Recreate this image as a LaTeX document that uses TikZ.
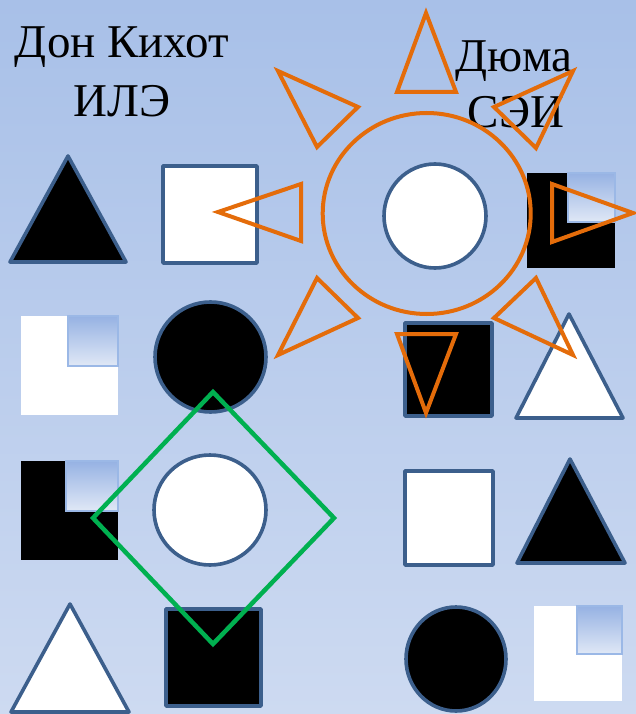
\documentclass[tikz,border=0pt]{standalone}
\usepackage{fontspec}
\setmainfont{Liberation Serif}
\definecolor{bgtop}{RGB}{168,192,232}
\definecolor{bgbot}{RGB}{205,218,241}
\definecolor{sblue}{RGB}{60,95,140}
\definecolor{sorange}{RGB}{228,108,10}
\definecolor{sgreen}{RGB}{0,176,80}
\definecolor{gtop}{RGB}{150,178,227}
\definecolor{gbot}{RGB}{224,232,246}
\definecolor{gedge}{RGB}{155,184,230}
\tikzset{
  bl/.style={draw=sblue,line width=3.6pt,line join=round},
  ray/.style={draw=sorange,line width=4pt,line join=miter},
  gq/.style={top color=gtop,bottom color=gbot,draw=gedge,line width=1.5pt},
  lbl/.style={inner sep=0pt,anchor=base,font=\fontsize{47}{56}\selectfont}
}
\begin{document}
\begin{tikzpicture}[x=1pt,y=-1pt]
\useasboundingbox (0,0) rectangle (636,714);
\shade[top color=bgtop,bottom color=bgbot] (0,0) rectangle (636,714);
% left column shapes
\filldraw[bl,fill=black] (68,156) -- (126,262) -- (10,262) -- cycle;
\filldraw[bl,fill=white] (163,166) rectangle (257,263);
\fill[white] (21,316) rectangle (118,415);
\shadedraw[gq] (68,316) rectangle (118,366);
\filldraw[bl,fill=black] (210.5,357) circle[x radius=55.5,y radius=55];
\fill[black] (21,461) rectangle (118,560);
\shadedraw[gq] (66,461) rectangle (118,511);
\filldraw[bl,fill=white] (210,510) circle[x radius=56,y radius=55];
\filldraw[bl,fill=white] (70,604) -- (129,712) -- (11,712) -- cycle;
\filldraw[bl,fill=black] (166,609) rectangle (261,706);
% right side shapes
\filldraw[bl,fill=white] (435,216) circle[x radius=51,y radius=52];
\fill[black] (527,173) rectangle (615,268);
\shadedraw[gq] (568,173) rectangle (615,222);
\filldraw[bl,fill=black] (405,323) rectangle (492,416);
\filldraw[bl,fill=white] (569,314) -- (623,418) -- (516,418) -- cycle;
\filldraw[bl,fill=white] (405,471) rectangle (493,565);
\filldraw[bl,fill=black] (570,459) -- (625,563) -- (517,563) -- cycle;
\filldraw[bl,fill=black] (456,659) circle[x radius=50,y radius=52];
\fill[white] (534,606) rectangle (622,701);
\shadedraw[gq] (577,606) rectangle (622,654);
% texts
\node[lbl] (t1) at (122,58) {Дон Кихот};
\node[lbl] (t2) at (122,117) {ИЛЭ};
\node[lbl] (t3) at (514,72) {Дюма};
\node[lbl] (t4) at (516,128) {СЭИ};
% sun
\draw[ray] (426.7,213.5) circle[x radius=104,y radius=100.5];
\draw[ray] (426,13) -- (456,92) -- (397,92) -- cycle;
\draw[ray] (573,71) -- (494,107) -- (536,148) -- cycle;
\draw[ray] (552,184) -- (633,213) -- (552,242) -- cycle;
\draw[ray] (536,278) -- (494,318) -- (573,355) -- cycle;
\draw[ray] (397,334) -- (456,334) -- (426,413) -- cycle;
\draw[ray] (317,278) -- (358,318) -- (278,355) -- cycle;
\draw[ray] (301,184) -- (301,241) -- (218,212) -- cycle;
\draw[ray] (278,71) -- (358,107) -- (317,147) -- cycle;
% green diamond
\draw[draw=sgreen,line width=4.5pt] (213,392) -- (334,518) -- (213,644) -- (93,518) -- cycle;
\end{tikzpicture}
\end{document}
